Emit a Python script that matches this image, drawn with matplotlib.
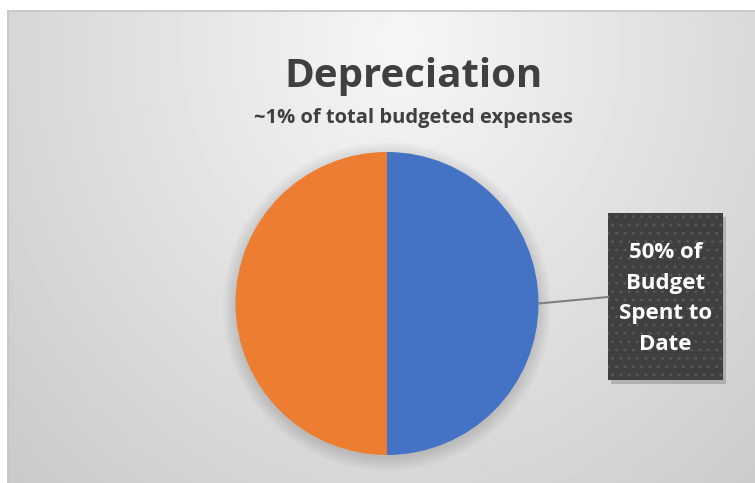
import numpy as np
import matplotlib
matplotlib.use("Agg")
import matplotlib.pyplot as plt
from matplotlib.patches import Rectangle, Circle

# Data
categories = ["Spent to Date", "Remaining"]
shares = [50, 50]
colors = ["#4472C4", "#ED7D31"]
title = "Depreciation"
subtitle = "~1% of total budgeted expenses"

W, H = 755, 483
fig = plt.figure(figsize=(W / 100, H / 100), dpi=100)
fig.patch.set_facecolor("white")

# Chart-area background: soft radial gradient
bg = fig.add_axes([8 / W, 0, (W - 8) / W, (H - 11) / H])
bg.set_axis_off()
yy, xx = np.mgrid[11:H, 8:W]
d = np.sqrt(((xx - 400) / 1.0) ** 2 + ((yy - 40) / 1.15) ** 2)
val = np.clip(0.965 - d * 0.00032, 0, 1)
bg.imshow(val, cmap="gray", vmin=0, vmax=1, aspect="auto",
          extent=[0, 1, 0, 1], origin="upper", interpolation="bilinear")
bg.set_xlim(0, 1)
bg.set_ylim(0, 1)
bg.plot([0, 1], [1, 1], color="#c4c4c4", lw=1.2, transform=bg.transAxes, clip_on=False)
bg.plot([0, 0], [0, 1], color="#c4c4c4", lw=1.2, transform=bg.transAxes, clip_on=False)

# Pie axes
cx, cy, r = 387, 303.5, 151.5
ax = fig.add_axes([(cx - r) / W, (H - cy - r) / H, 2 * r / W, 2 * r / H])
ax.set_axis_off()

wedges, _ = ax.pie(shares, colors=colors, startangle=90, counterclock=False,
                   radius=1.0, wedgeprops=dict(linewidth=0))
for w in wedges:
    w.set_zorder(2)

# soft shadow under the pie
for k in range(8):
    ax.add_patch(Circle((0, -0.02), 1.0 + 0.012 * k, color="black",
                        alpha=0.016, lw=0, zorder=0, clip_on=False))

ax.set_xlim(-1, 1)
ax.set_ylim(-1, 1)

# Titles
fig.text(414 / W, 1 - 76 / H, title, ha="center", va="center",
         fontsize=29, fontweight="bold", color="#404040", family="Open Sans")
fig.text(414 / W, 1 - 118 / H, subtitle, ha="center", va="center",
         fontsize=14.5, fontweight="bold", color="#404040", family="Open Sans")

# Data label box with leader line
bx0, by0, bx1, by1 = 608, 213, 723, 380
lab = fig.add_axes([0, 0, 1, 1], facecolor="none")
lab.set_xlim(0, W)
lab.set_ylim(H, 0)
lab.set_axis_off()
lab.add_patch(Rectangle((bx0 + 3, by0 + 4), bx1 - bx0, by1 - by0,
                        facecolor="black", alpha=0.18, lw=0))
lab.add_patch(Rectangle((bx0, by0), bx1 - bx0, by1 - by0,
                        facecolor="#3f3f3f", edgecolor="#565656", hatch="..",
                        lw=0))
lab.plot([cx + r, bx0], [cy, 297], color="#7f7f7f", lw=1.5)
pct = shares[0] / sum(shares) * 100
lab.text((bx0 + bx1) / 2, (by0 + by1) / 2 + 2,
         f"{pct:.0f}% of\nBudget\nSpent to\nDate",
         ha="center", va="center", color="white", fontsize=16,
         fontweight="bold", family="Open Sans", linespacing=1.6)

fig.savefig("out.png", dpi=100)
